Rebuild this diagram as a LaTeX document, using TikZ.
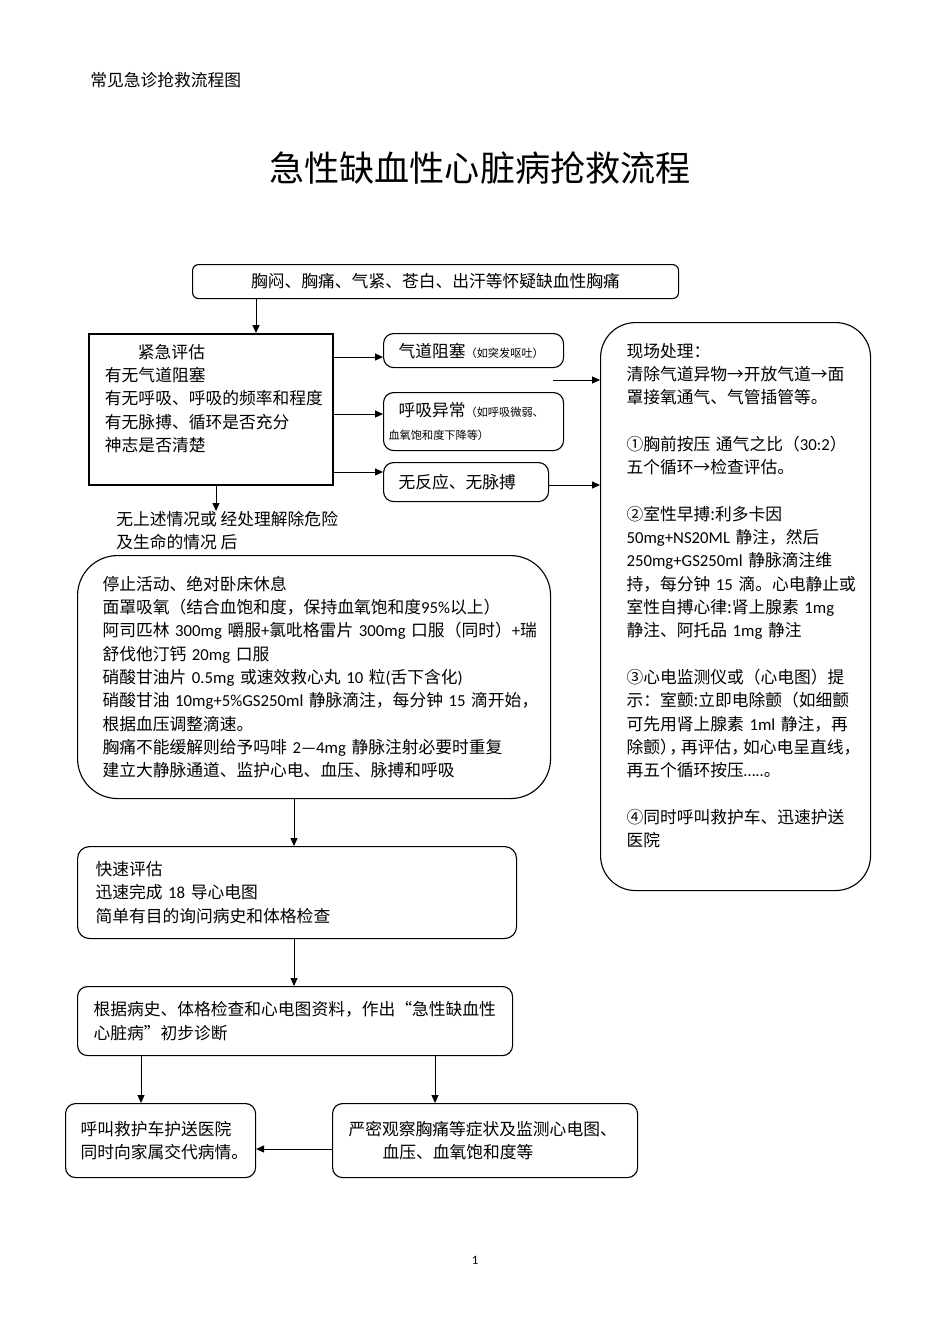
\documentclass[tikz,border=0pt]{standalone}
\usepackage{fontspec}
\setmainfont{Noto Sans CJK SC}
\newfontfamily\latfont{Carlito}
\usetikzlibrary{arrows.meta}
\newdimen\px \px=0.6263pt
\newcommand{\sm}[1]{{\fontsize{7}{9}\selectfont #1}}
\newcommand{\lat}[1]{{\latfont #1}}
\tikzset{
  box/.style={draw, rounded corners=10\px, line width=0.7pt, anchor=north west,
    align=left, inner ysep=0pt, font=\fontsize{10.5}{14.6}\selectfont},
  plain/.style={anchor=north west, align=left, inner sep=0pt, font=\fontsize{10.5}{14.6}\selectfont},
  arr/.style={-{Triangle[length=5pt,width=4.4pt]}, line width=0.6pt}
}
\begin{document}
\begin{tikzpicture}[x=0.6263pt,y=-0.6263pt]
        \useasboundingbox (0,0) rectangle (950,1344);

        % page head and title
        \node[plain, anchor=west] (head) at (90,80) {常见急诊抢救流程图};
        \node[font=\fontsize{22}{26}\selectfont] (title) at (480,168) {急性缺血性心脏病抢救流程};

        \node[box, rounded corners=6\px, align=center, minimum width=486\px, minimum height=34\px] (top) at (192,264)
            {胸闷、胸痛、气紧、苍白、出汗等怀疑缺血性胸痛};

        \node[box, rounded corners=0pt, line width=1.2pt, minimum width=244\px, minimum height=151\px,
            text width=212\px, inner xsep=16\px] (em) at (88,333)
            {\hspace*{33\px}紧急评估\\有无气道阻塞\\有无呼吸、呼吸的频率和程度\\有无脉搏、循环是否充分\\神志是否清楚\\ \mbox{}};

        \node[box, minimum width=180\px, minimum height=34\px, text width=150\px, inner xsep=15\px] (air) at (383,333)
            {气道阻塞\sm{（如突发呕吐）}};
        \node[box, minimum width=180\px, minimum height=58\px, text width=170\px, inner xsep=5\px] (breath) at (383,392)
            {\hspace*{10\px}呼吸异常\sm{（如呼吸微弱、}\\\sm{血氧饱和度下降等）}};
        \node[box, minimum width=165\px, minimum height=39\px, text width=135\px, inner xsep=15\px] (noresp) at (383,462)
            {无反应、无脉搏};

        \node[box, rounded corners=35\px, minimum width=270\px, minimum height=568\px, text width=218\px, inner xsep=26\px] (field) at (600,322)
            {现场处理：\\清除气道异物→开放气道→面\\罩接氧通气、气管插管等。\\[14.6pt]
             ①胸前按压~通气之比（\lat{30:2}）\\五个循环→检查评估。\\[14.6pt]
             ②室性早搏:利多卡因\\\lat{50mg+NS20ML}~静注，然后\\\lat{250mg+GS250ml}~静脉滴注维\\持，每分钟~\lat{15}~滴。心电静止或\\室性自搏心律:肾上腺素~\lat{1mg}\\静注、阿托品~\lat{1mg}~静注\\[14.6pt]
             ③心电监测仪或（心电图）提\\示：室颤:立即电除颤（如细颤\\可先用肾上腺素~\lat{1ml}~静注，再\\除颤）\kern-0.45em，\kern-0.3em再评估，\kern-0.3em如心电呈直线，\\再五个循环按压\lat{…..}。\\[14.6pt]
             ④同时呼叫救护车、迅速护送\\医院\\ \mbox{}};

        \node[plain] (after) at (116,511) {无上述情况或~经处理解除危险\\及生命的情况~后};

        \node[box, rounded corners=40\px, minimum width=473\px, minimum height=243\px, text width=423\px, inner xsep=25\px] (meas) at (77,555)
            {停止活动、绝对卧床休息\\面罩吸氧（结合血饱和度，保持血氧饱和度\lat{95\%}以上）\\阿司匹林~\lat{300mg}~嚼服\lat{+}氯吡格雷片~\lat{300mg}~口服（同时）\lat{+}瑞\\舒伐他汀钙~\lat{20mg}~口服\\
             硝酸甘油片~\lat{0.5mg}~或速效救心丸~\lat{10}~粒\lat{(}舌下含化\lat{)}\\硝酸甘油~\lat{10mg+5\%GS250ml}~静脉滴注，每分钟~\lat{15}~滴开始，\\根据血压调整滴速。\\
             胸痛不能缓解则给予吗啡~\lat{2—4mg}~静脉注射必要时重复\\建立大静脉通道、监护心电、血压、脉搏和呼吸};

        \node[box, rounded corners=12\px, minimum width=439\px, minimum height=92\px, text width=403\px, inner xsep=18\px] (fast) at (77,846)
            {快速评估\\迅速完成~\lat{18}~导心电图\\简单有目的询问病史和体格检查};
        \node[box, minimum width=435\px, minimum height=69\px, text width=403\px, inner xsep=16\px] (diag) at (77,986)
            {根据病史、体格检查和心电图资料，作出“急性缺血性\\心脏病”初步诊断};
        \node[box, minimum width=190\px, minimum height=74\px, text width=160\px, inner xsep=15\px] (call) at (65,1103)
            {呼叫救护车护送医院\\同时向家属交代病情。};
        \node[box, minimum width=305\px, minimum height=74\px, text width=273\px, inner xsep=16\px] (watch) at (332,1103)
            {严密观察胸痛等症状及监测心电图、\\\hspace*{34\px}血压、血氧饱和度等};

        \node[font=\latfont\fontsize{8}{10}\selectfont] (page) at (475,1260) {1};

        % connectors
        \draw[arr] (top.south -| 256,0) -- (em.north -| 256,0);
        \draw[arr] (em.east |- 0,357) -- (air.west |- 0,357);
        \draw[arr] (em.east |- 0,414) -- (breath.west |- 0,414);
        \draw[arr] (em.east |- 0,472) -- (noresp.west |- 0,472);
        \coordinate (gap) at (553,380);
        \draw[arr] (gap) -- (gap -| field.west);
        \draw[arr] (noresp.east |- 0,485) -- (field.west |- 0,485);
        \draw[arr] (em.south -| 216,0) -- (after.north -| 216,0);
        \draw[arr] (meas.south -| 294,0) -- (fast.north -| 294,0);
        \draw[arr] (fast.south -| 294,0) -- (diag.north -| 294,0);
        \draw[arr] (diag.south -| 141,0) -- (call.north -| 141,0);
        \draw[arr] (diag.south -| 435,0) -- (watch.north -| 435,0);
        \draw[arr] (watch.west |- 0,1149) -- (call.east |- 0,1149);
\end{tikzpicture}
\end{document}
